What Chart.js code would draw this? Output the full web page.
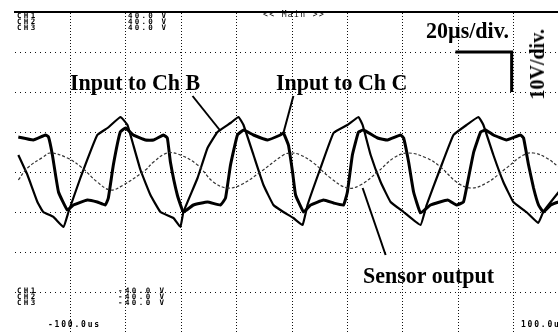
<!DOCTYPE html>
<html>
<head>
<meta charset="utf-8">
<script src="https://cdn.jsdelivr.net/npm/chart.js@4/dist/chart.umd.min.js"></script>
<style>
  html, body { margin: 0; padding: 0; background: #fff; }
  body { width: 558px; height: 333px; overflow: hidden; position: relative; }
  #scope { position: absolute; left: 0; top: 0; }
  .lbl { position: absolute; font-family: "Liberation Serif", "Times New Roman", serif; font-weight: bold; font-size: 22px; line-height: 22px; color: #000; white-space: nowrap; transform: scaleY(1.08); transform-origin: left top; }
  .vert { writing-mode: vertical-rl; transform: rotate(180deg); transform-origin: center center; font-size: 20px; line-height: 20px; }
  .mono { position: absolute; font-family: "DejaVu Sans Mono", monospace; font-weight: bold; font-size: 7.5px; line-height: 6px; color: #000; white-space: nowrap; }
</style>
</head>
<body>
<canvas id="scope" width="580" height="333"></canvas>

<div class="mono" style="left:17px;top:13px;letter-spacing:2.3px">CH1<br>CH2<br>CH3</div>
<div class="mono" style="left:128px;top:13px;letter-spacing:2.2px">40.0 V<br>40.0 V<br>40.0 V</div>
<div class="mono" style="left:263px;top:12px;font-size:8px;font-weight:normal;letter-spacing:1.4px">&lt;&lt; Main &gt;&gt;</div>
<div class="mono" style="left:17px;top:288px;letter-spacing:2.3px">CH1<br>CH2<br>CH3</div>
<div class="mono" style="left:118px;top:288px;letter-spacing:2.4px">-40.0 V<br>-40.0 V<br>-40.0 V</div>
<div class="mono" style="left:48px;top:322px;font-size:8px;letter-spacing:1.8px">-100.0us</div>
<div class="mono" style="left:521px;top:322px;font-size:8px;letter-spacing:1.8px">100.0us</div>

<div class="lbl" style="left:70px;top:71px">Input to Ch B</div>
<div class="lbl" style="left:276px;top:71px">Input to Ch C</div>
<div class="lbl" style="left:363px;top:264px">Sensor output</div>
<div class="lbl" style="left:426px;top:19px">20µs/div.</div>
<div class="lbl vert" style="left:527px;top:29px">10V/div.</div>

<script>
// time in µs, voltage in V (20µs/div, 10V/div)
const chBTimes = [
  -98.8, -95.5, -91.9, -89.8, -86.1, -82.5, -80.7, -76.4, -70.3, -66.6,
  -61.9, -59.4, -57.6, -54.7, -51.1, -47.5, -42.8, -40.3, -39.2, -34.1,
  -30.5, -26.9, -22.2, -19.3, -17.5, -13.9, -10.3, -6.7, -3.1, 0.5,
  3.8, 5.6, 10.3, 15.0, 20.0, 24.0, 25.5, 28.4, 32.0, 35.6,
  40.3, 46.4, 48.6, 53.6, 58.3, 63.0, 67.3, 69.1, 72.7, 76.3,
  79.9, 84.6, 88.9, 90.7, 96.3, 100
];
const chBVolts = [
  4.25, -0.75, -7.5, -10, -11.25, -13.75, -10, -1.5, 9.25, 11,
  13.75, 11.75, 7.5, 0.5, -5.75, -10, -11.5, -13.75, -10, -1.5,
  6, 10, 12.25, 13.75, 11.75, 4.25, -3.25, -8.25, -10, -11.5,
  -13.25, -8.25, 1, 9.75, 11.75, 13.75, 11.75, 4.25, -2.5, -7.5,
  -10, -13.25, -8.25, 1, 9.25, 11.75, 13.75, 11.75, 4.25, -2.5,
  -7.5, -10, -12.75, -10, -5, -2
];

const chCTimes = [
  -98.8, -93.4, -89.0, -87.9, -86.5, -84.3, -81.1, -78.9, -73.9, -70.3,
  -67.4, -66.3, -64.5, -62.0, -60.1, -57.3, -52.9, -50.0, -46.4, -45.0,
  -43.9, -41.4, -39.2, -35.6, -30.5, -25.8, -24.0, -22.2, -19.7, -17.5,
  -13.9, -8.8, -4.2, -3.1, -1.3, 0.2, 1.3, 4.2, 6.7, 11.4,
  15.0, 18.6, 20.0, 21.8, 24.0, 25.8, 30.9, 34.5, 39.2, 40.3,
  42.1, 43.9, 46.4, 50.0, 56.2, 59.4, 61.9, 63.0, 65.6, 68.1,
  69.9, 72.7, 77.4, 82.5, 83.6, 85.4, 87.2, 89.0, 90.8, 93.4,
  96.3, 100
];
const chCVolts = [
  8.75, 8, 9.25, 8.75, 4.25, -5, -9.5, -8.25, -7, -7.5,
  -8.25, -6.5, 1.75, 10, 11, 9.25, 8, 8, 9.25, 8.5,
  2.5, -5.75, -10, -8.25, -7.5, -8.25, -6.5, 1.75, 9.25, 10.5,
  9.25, 8, 9.25, 9.75, 6.75, 0, -5.75, -10, -8.25, -7,
  -7.75, -8.25, -5, 4.25, 10, 10.5, 8.5, 8, 9.25, 8.5,
  2.5, -5, -10.25, -8.25, -7, -8.25, -7.5, -4, 5, 10,
  10.5, 9.25, 8, 9.25, 8.5, 1.75, -4, -8.25, -10, -8.25,
  -7.5, -7
];

const sensorTimes = [
  -98.8, -95.5, -89.8, -87.3, -81.1, -75.7, -70.3, -65.5, -60.9, -52.9,
  -50.0, -45.0, -40.3, -34.1, -28.4, -23.3, -18.6, -11.4, -3.1, -0.5,
  3.1, 7.8, 13.9, 20.0, 24.7, 30.9, 36.7, 41.7, 48.6, 53.6,
  59.4, 64.5, 70.2, 77.4, 83.6, 87.2, 91.9, 96.3
];
const sensorVolts = [
  -2, 1, 3.75, 4.75, 3.5, 1, -2.5, -4.5, -3.25, 0.5,
  2.5, 4.75, 4.25, 1.75, -2.5, -4, -3.25, 0, 4.25, 4.75,
  4.25, 2.25, -1.5, -4, -3.25, 0, 3.5, 4.75, 3.5, 1.25,
  -2.5, -4, -2.75, 1, 4.25, 4.75, 3.5, 1.25
];

// pointer lines and the scale bracket, in µs / V
const pointerLines = [
  { path: [[-35.9, 19], [-25.8, 10.25]], width: 2 },
  { path: [[0.5, 19], [-3.1, 9.75]], width: 2 },
  { path: [[25.5, -4], [33.8, -20.75]], width: 2 },
  { path: [[59, 30], [79.3, 30], [79.3, 20]], width: 3 }
];

function toPoints(times, volts) {
  return times.map((t, i) => ({ x: t, y: volts[i] }));
}

const pointerPlugin = {
  id: 'pointers',
  afterDatasetsDraw(chart) {
    const { ctx, scales: { x, y } } = chart;
    ctx.save();
    ctx.strokeStyle = '#000';
    ctx.lineJoin = 'miter';
    pointerLines.forEach(p => {
      ctx.lineWidth = p.width;
      ctx.beginPath();
      p.path.forEach(([t, v], i) => {
        const px = x.getPixelForValue(t), py = y.getPixelForValue(v);
        if (i) ctx.lineTo(px, py); else ctx.moveTo(px, py);
      });
      ctx.stroke();
    });
    ctx.restore();
  }
};

const hideEdge = lim => c => (c.tick && Math.abs(c.tick.value) === lim) ? 'rgba(0,0,0,0)' : '#111';

new Chart(document.getElementById('scope'), {
  type: 'line',
  data: {
    datasets: [
      { label: 'Sensor output', data: toPoints(sensorTimes, sensorVolts), borderColor: '#333', borderWidth: 1.2, borderDash: [3, 2], pointRadius: 0, tension: 0.4 },
      { label: 'Input to Ch B', data: toPoints(chBTimes, chBVolts), borderColor: '#000', borderWidth: 2.2, pointRadius: 0, tension: 0.1 },
      { label: 'Input to Ch C', data: toPoints(chCTimes, chCVolts), borderColor: '#000', borderWidth: 3, pointRadius: 0, tension: 0.1 }
    ]
  },
  options: {
    responsive: false,
    animation: false,
    devicePixelRatio: 1,
    layout: { padding: { left: 15, right: 11, top: 12, bottom: 1 } },
    plugins: { legend: { display: false }, tooltip: { enabled: false } },
    scales: {
      x: {
        type: 'linear', position: 'top', min: -100, max: 100,
        ticks: { display: false, stepSize: 20 },
        grid: { color: hideEdge(100), drawTicks: false, lineWidth: 1 },
        border: { display: true, color: '#000', width: 2, dash: [1, 2] }
      },
      y: {
        min: -40, max: 40,
        ticks: { display: false, stepSize: 10 },
        grid: { color: hideEdge(40), drawTicks: false, lineWidth: 1 },
        border: { display: false, dash: [1, 4] }
      }
    }
  },
  plugins: [pointerPlugin]
});
</script>
</body>
</html>
